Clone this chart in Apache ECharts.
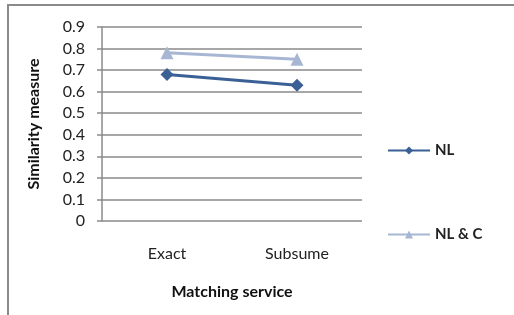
<!DOCTYPE html>
<html>
<head>
<meta charset="utf-8">
<script src="https://cdn.jsdelivr.net/npm/echarts@6/dist/echarts.min.js"></script>
<style>
  html, body { margin: 0; padding: 0; background: #fff; }
  #chart { width: 514px; height: 315px; }
</style>
</head>
<body>
<div id="chart"></div>
<script>
  const categories = ['Exact', 'Subsume'];
  const nlValues = [0.68, 0.63];
  const nlcValues = [0.78, 0.75];
  const yTicks = [0, 0.1, 0.2, 0.3, 0.4, 0.5, 0.6, 0.7, 0.8, 0.9];

  const DARK = '#3b6096';
  const LIGHT = '#a7b7d3';
  const FONT = 'Lato';

  const chart = echarts.init(document.getElementById('chart'));
  const option = {
    animation: false,
    textStyle: { fontFamily: FONT },
    graphic: [{
      type: 'rect',
      shape: { x: 8, y: 5, width: 520, height: 330 },
      style: { fill: 'none', stroke: '#8a8a8a', lineWidth: 2 }
    }],
    grid: { left: 102, right: 152, top: 27, bottom: 94 },
    legend: [
      {
        data: ['NL'], left: 382, top: 138, orient: 'vertical',
        itemWidth: 42, itemHeight: 10, itemGap: 4,
        textStyle: { fontFamily: FONT, fontSize: 15, color: '#222', fontWeight: 'bold' }
      },
      {
        data: ['NL & C'], left: 382, top: 222, orient: 'vertical',
        itemWidth: 42, itemHeight: 10, itemGap: 4,
        textStyle: { fontFamily: FONT, fontSize: 15, color: '#222', fontWeight: 'bold' }
      }
    ],
    xAxis: {
      type: 'category',
      data: categories,
      boundaryGap: true,
      name: 'Matching service',
      nameLocation: 'middle',
      nameGap: 63,
      nameTextStyle: { fontFamily: FONT, fontSize: 16, fontWeight: 'bold', color: '#111' },
      axisLine: { show: false },
      axisTick: { show: false },
      axisLabel: { fontFamily: FONT, fontSize: 16, color: '#222', margin: 25 }
    },
    yAxis: {
      type: 'value',
      min: 0, max: 0.9, interval: 0.1,
      name: 'Similarity measure',
      nameLocation: 'middle',
      nameGap: 60,
      nameTextStyle: { fontFamily: FONT, fontSize: 16, fontWeight: 'bold', color: '#111' },
      axisLine: { show: true, lineStyle: { color: '#8a8a8a', width: 1.5 } },
      axisTick: { show: true, length: 5, lineStyle: { color: '#8a8a8a', width: 1.5 } },
      axisLabel: {
        fontFamily: FONT, fontSize: 16, color: '#222', margin: 17,
        formatter: v => {
          const t = yTicks.find(x => Math.abs(x - v) < 1e-6);
          return t === undefined ? '' : String(t);
        }
      },
      splitLine: { lineStyle: { color: '#8a8a8a', width: 1.5 } }
    },
    series: [
      {
        name: 'NL', type: 'line', data: nlValues,
        symbol: 'diamond', symbolSize: 13,
        lineStyle: { color: DARK, width: 3 },
        itemStyle: { color: DARK }
      },
      {
        name: 'NL & C', type: 'line', data: nlcValues,
        symbol: 'triangle', symbolSize: 13,
        lineStyle: { color: LIGHT, width: 3 },
        itemStyle: { color: LIGHT }
      }
    ]
  };
  chart.setOption(option);
</script>
</body>
</html>
